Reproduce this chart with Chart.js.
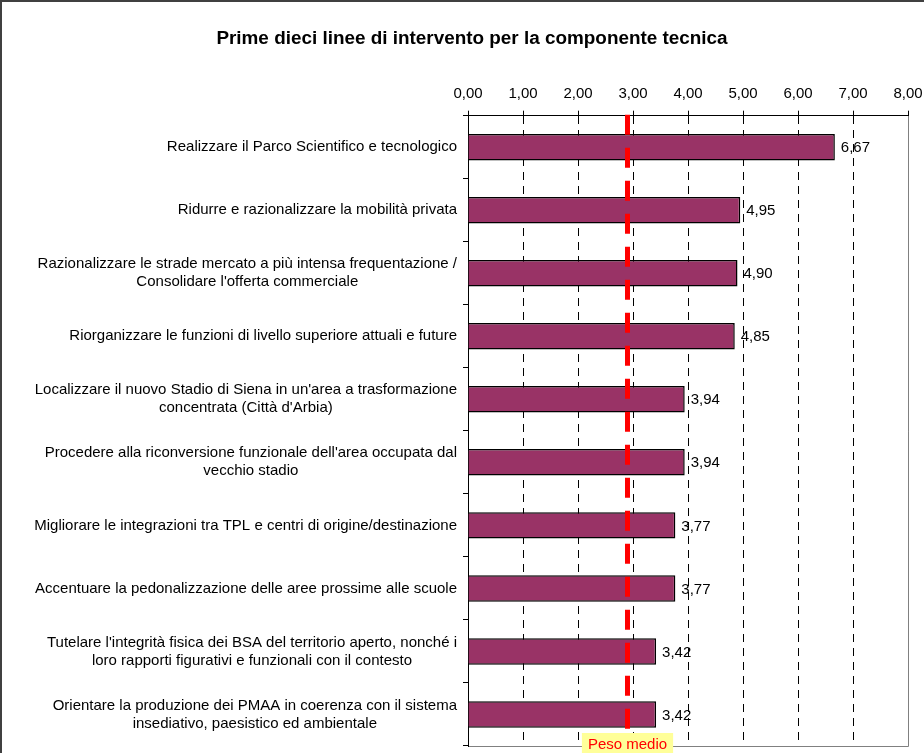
<!DOCTYPE html>
<html>
<head>
<meta charset="utf-8">
<script src="https://cdn.jsdelivr.net/npm/chart.js@4"></script>
<style>
  html, body { margin: 0; padding: 0; background: #fff; overflow: hidden; }
</style>
</head>
<body>
<canvas id="chart" width="924" height="753"></canvas>
<script>
const categories = [
  ["Realizzare il Parco Scientifico e tecnologico"],
  ["Ridurre e razionalizzare la mobilità privata"],
  ["Razionalizzare le strade mercato a più intensa frequentazione /", "Consolidare l'offerta commerciale"],
  ["Riorganizzare le funzioni di livello superiore attuali e future"],
  ["Localizzare il nuovo Stadio di Siena in un'area a trasformazione", "concentrata (Città d'Arbia)"],
  ["Procedere alla riconversione funzionale dell'area occupata dal", "vecchio stadio"],
  ["Migliorare le integrazioni tra TPL e centri di origine/destinazione"],
  ["Accentuare la pedonalizzazione delle aree prossime alle scuole"],
  ["Tutelare l'integrità fisica dei BSA del territorio aperto, nonché i", "loro rapporti figurativi e funzionali con il contesto"],
  ["Orientare la produzione dei PMAA in coerenza con il sistema", "insediativo, paesistico ed ambientale"],
];
const values = [6.67, 4.95, 4.90, 4.85, 3.94, 3.94, 3.77, 3.77, 3.42, 3.42];
const pesoMedio = 2.9;
const pesoLabel = "Peso medio";
const titleText = "Prime dieci linee di intervento per la componente tecnica";

const FONT = "'Liberation Sans', Arial, sans-serif";
const fmt = v => v.toFixed(2).replace(".", ",");

// etichette categorie: blocco allineato a destra, righe centrate tra loro
const categoryLabels = {
  id: "categoryLabels",
  afterDraw(chart) {
    const { ctx, scales: { y } } = chart;
    ctx.save();
    ctx.font = "15px " + FONT;
    ctx.fillStyle = "#000";
    ctx.textBaseline = "middle";
    ctx.textAlign = "center";
    const right = y.right - 11;
    const lh = 18;
    categories.forEach((lines, i) => {
      const w = Math.max(...lines.map(l => ctx.measureText(l).width));
      const cx = right - w / 2;
      const cy = y.getPixelForValue(i);
      lines.forEach((l, j) => {
        ctx.fillText(l, cx, cy + (j - (lines.length - 1) / 2) * lh);
      });
    });
    ctx.restore();
  },
};

const valueLabels = {
  id: "valueLabels",
  afterDatasetsDraw(chart) {
    const { ctx } = chart;
    const meta = chart.getDatasetMeta(0);
    ctx.save();
    ctx.font = "15px " + FONT;
    ctx.fillStyle = "#000";
    ctx.textBaseline = "middle";
    ctx.textAlign = "left";
    meta.data.forEach((bar, i) => {
      ctx.fillText(fmt(values[i]), bar.x + 6, bar.y + 1);
    });
    ctx.restore();
  },
};

const pesoLine = {
  id: "pesoLine",
  afterDatasetsDraw(chart) {
    const { ctx, chartArea: a, scales: { x } } = chart;
    const px = x.getPixelForValue(pesoMedio);
    ctx.save();
    ctx.strokeStyle = "#ff0000";
    ctx.lineWidth = 5;
    ctx.setLineDash([20, 13]);
    ctx.beginPath();
    ctx.moveTo(px, a.top - 1);
    ctx.lineTo(px, a.bottom);
    ctx.stroke();
    ctx.setLineDash([]);
    ctx.font = "15px " + FONT;
    const w = ctx.measureText(pesoLabel).width + 12;
    ctx.fillStyle = "#ffff99";
    ctx.fillRect(px - w / 2, a.bottom - 13, w, 25);
    ctx.fillStyle = "#ff0000";
    ctx.textAlign = "center";
    ctx.textBaseline = "middle";
    ctx.fillText(pesoLabel, px, a.bottom - 1);
    ctx.restore();
  },
};

const frame = {
  id: "frame",
  beforeDraw(chart) {
    const { ctx, chartArea: a } = chart;
    ctx.save();
    ctx.strokeStyle = "#808080";
    ctx.lineWidth = 1;
    ctx.beginPath();
    ctx.moveTo(a.right + 0.5, a.top);
    ctx.lineTo(a.right + 0.5, a.bottom + 0.5);
    ctx.lineTo(a.left, a.bottom + 0.5);
    ctx.stroke();
    ctx.strokeStyle = "#404040";
    ctx.lineWidth = 2;
    ctx.beginPath();
    ctx.moveTo(1, chart.height);
    ctx.lineTo(1, 1);
    ctx.lineTo(chart.width, 1);
    ctx.stroke();
    ctx.restore();
  },
};

new Chart(document.getElementById("chart"), {
  type: "bar",
  data: {
    labels: categories,
    datasets: [{
      data: values,
      backgroundColor: "#993366",
      borderColor: "#000",
      borderWidth: 1.5,
      barPercentage: 0.42,
      categoryPercentage: 1,
    }],
  },
  options: {
    indexAxis: "y",
    responsive: false,
    animation: false,
    devicePixelRatio: 1,
    layout: { padding: { left: 36, right: 16, top: 0, bottom: 7 } },
    plugins: {
      legend: { display: false },
      tooltip: { enabled: false },
      title: {
        display: true,
        text: titleText,
        color: "#000",
        font: { family: FONT, size: 18.9, weight: "bold" },
        padding: { top: 27, bottom: 8 },
      },
    },
    scales: {
      x: {
        position: "top",
        min: 0,
        max: 8,
        afterFit(s) { s.height = 58; s.paddingRight = 0; s.paddingLeft = 0; },
        border: { display: true, color: "#000", width: 1, dash: [8, 6] },
        grid: {
          color: c => (c.tick && c.tick.value === 8 ? "transparent" : "#000"),
          tickLength: 5,
          tickColor: "#000",
          tickBorderDash: [],
        },
        ticks: {
          stepSize: 1,
          color: "#000",
          padding: 8,
          font: { family: FONT, size: 15 },
          callback: v => fmt(v),
        },
      },
      y: {
        afterFit(s) { s.width = 432; },
        border: { display: true, color: "#000", width: 1 },
        grid: {
          offset: true,
          drawOnChartArea: false,
          tickLength: 5,
          color: "#000",
        },
        ticks: { display: false },
      },
    },
  },
  plugins: [frame, categoryLabels, valueLabels, pesoLine],
});
</script>
</body>
</html>
